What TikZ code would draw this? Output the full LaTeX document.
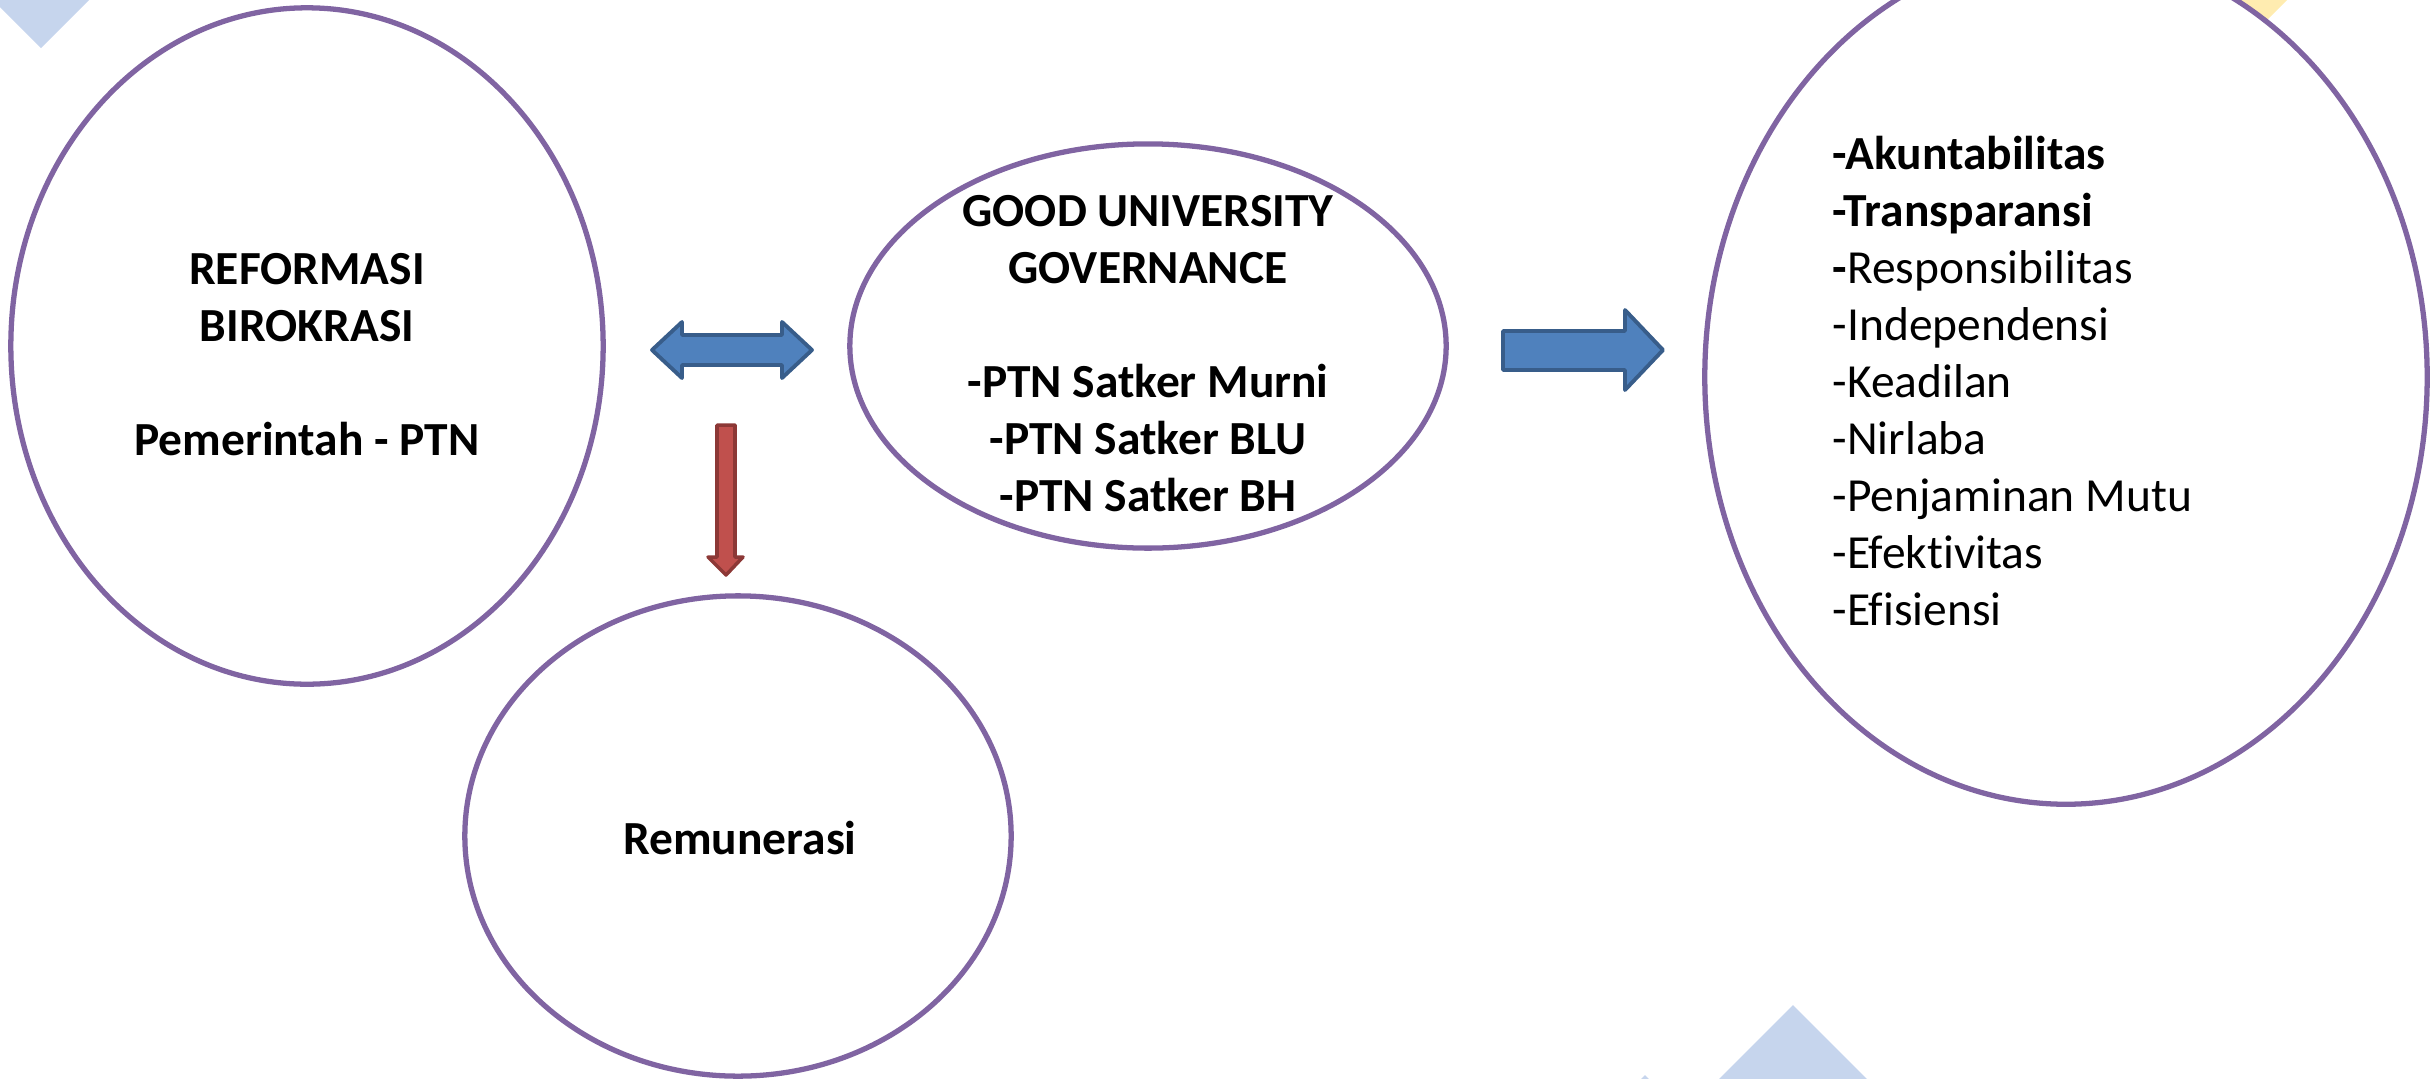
\documentclass[tikz,border=0pt]{standalone}
\usepackage{fontspec}
\setmainfont{Carlito}[Ligatures=NoCommon]
\usetikzlibrary{shapes.geometric}
\definecolor{bubbleline}{HTML}{8064A2}
\definecolor{arrowblue}{HTML}{4F81BD}
\definecolor{arrowblueline}{HTML}{385D8A}
\definecolor{arrowred}{HTML}{C0504D}
\definecolor{arrowredline}{HTML}{8C3836}
\definecolor{decoblue}{HTML}{C6D5ED}
\definecolor{decoyellow}{HTML}{FFECB0}
\tikzset{
  bubble/.style={ellipse, draw=bubbleline, line width=1.5pt, fill=white, inner sep=0pt},
  bubbletext/.style={inner sep=0pt, align=center, font=\fontsize{13.5}{16.2}\selectfont\bfseries},
  listtext/.style={inner sep=0pt, align=left, font=\fontsize{13.5}{16.2}\selectfont},
  bluearrow/.style={fill=arrowblue, draw=arrowblueline, line width=1.1pt, line join=round},
  redarrow/.style={fill=arrowred, draw=arrowredline, line width=1pt, line join=round},
}
\begin{document}
\begin{tikzpicture}[x=0.01cm,y=-0.01cm]
    \useasboundingbox (0,0) rectangle (2432,1078);
    \clip (0,0) rectangle (2432,1078);
    % background corner shapes
    \fill[decoblue] (41,-48)--(89,0)--(41,48)--(-7,0)--cycle;
    \fill[decoblue] (1793,1005)--(1893,1105)--(1793,1205)--(1693,1105)--cycle;
    \fill[decoblue] (1645,1075)--(1685,1115)--(1645,1155)--(1605,1115)--cycle;
    \fill[decoyellow] (2250,37)--(2310,-23)--(2250,-83)--(2190,-23)--cycle;
    % bubbles
    \node[bubble, minimum width=5.92cm, minimum height=6.76cm] (reformasi) at (307,346) {};
    \node[bubble, minimum width=5.96cm, minimum height=4.04cm] (gug) at (1148,346) {};
    \node[bubble, minimum width=5.46cm, minimum height=4.80cm] (remunerasi) at (738,836) {};
    \node[bubble, minimum width=7.22cm, minimum height=8.54cm] (prinsip) at (2066,377) {};
    % texts
    \node[bubbletext] (reformasitext) at (307,355)
        {REFORMASI\\BIROKRASI\\[16.2pt]Pemerintah - PTN};
    \node[bubbletext] (gugtext) at (1148,354)
        {GOOD UNIVERSITY\\GOVERNANCE\\[16.2pt]-PTN Satker Murni\\-PTN Satker BLU\\-PTN Satker BH};
    \node[bubbletext] (remunerasitext) at (740,838) {Remunerasi};
    \node[listtext, anchor=west] (nilai) at (1832,381)
        {\textbf{-Akuntabilitas}\\\textbf{-Transparansi}\\\textbf{-}Responsibilitas\\-Independensi\\-Keadilan\\-Nirlaba\\-Penjaminan Mutu\\-Efektivitas\\-Efisiensi};
    % block arrows
    \draw[bluearrow] (652,350)--(682,322)--(682,335)--(782,335)--(782,322)--(812,350)
        --(782,378)--(782,365)--(682,365)--(682,378)--cycle;
    \draw[redarrow] (717,425)--(735,425)--(735,557)--(743,557)--(726,575)--(708,557)--(717,557)--cycle;
    \draw[bluearrow] (1503,331)--(1625,331)--(1625,310)--(1663,350)--(1625,390)--(1625,370)--(1503,370)--cycle;
\end{tikzpicture}
\end{document}
